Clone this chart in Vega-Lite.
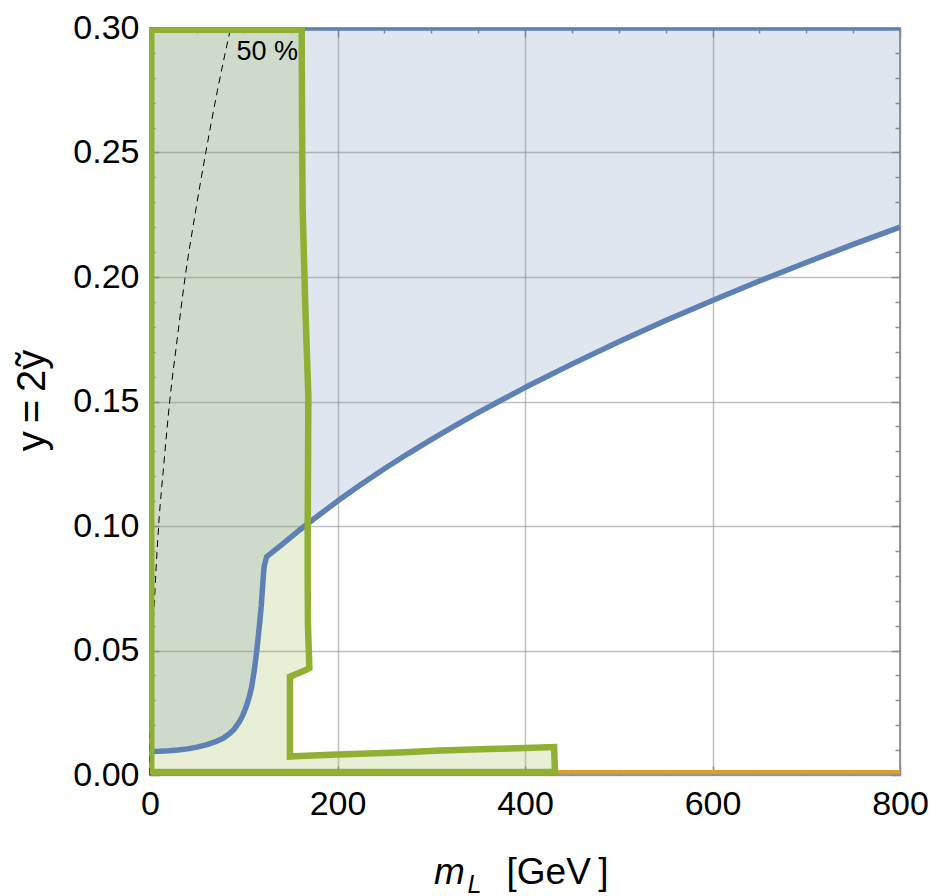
{
  "$schema": "https://vega.github.io/schema/vega-lite/v6.json",
  "width": 750,
  "height": 747,
  "autosize": {"type": "none"},
  "padding": {"left": 150, "top": 28, "right": 38, "bottom": 121},
  "background": "white",
  "config": {
    "view": {"stroke": "#9a9a9a", "strokeWidth": 2},
    "font": "Liberation Sans",
    "axis": {"domain": false, "labelFlush": false, "labelOverlap": false, "labelFont": "Liberation Sans", "titleFont": "Liberation Sans", "labelColor": "#000000", "titleColor": "#000000"}
  },
  "datasets": {
    "blue": [
      {"m": 0, "y": 0.0094}, {"m": 10, "y": 0.0095}, {"m": 20, "y": 0.0097}, {"m": 30, "y": 0.01},
      {"m": 40, "y": 0.0105}, {"m": 50, "y": 0.0112}, {"m": 60, "y": 0.0121}, {"m": 70, "y": 0.0134},
      {"m": 78, "y": 0.0148}, {"m": 85, "y": 0.0167}, {"m": 90, "y": 0.0185}, {"m": 95, "y": 0.0212},
      {"m": 99, "y": 0.024}, {"m": 103, "y": 0.0278}, {"m": 106, "y": 0.0315}, {"m": 108.5, "y": 0.0355},
      {"m": 111, "y": 0.0415}, {"m": 113, "y": 0.047}, {"m": 115, "y": 0.0538}, {"m": 117, "y": 0.0612},
      {"m": 118.7, "y": 0.068}, {"m": 120, "y": 0.075}, {"m": 121.2, "y": 0.0815}, {"m": 122, "y": 0.0842},
      {"m": 124.5, "y": 0.0877}, {"m": 140, "y": 0.0923}, {"m": 160, "y": 0.0985}, {"m": 175, "y": 0.1029},
      {"m": 200, "y": 0.11}, {"m": 225, "y": 0.1167}, {"m": 250, "y": 0.123}, {"m": 275, "y": 0.129},
      {"m": 300, "y": 0.1347}, {"m": 325, "y": 0.1402}, {"m": 350, "y": 0.1455}, {"m": 375, "y": 0.1506},
      {"m": 400, "y": 0.1556}, {"m": 450, "y": 0.165}, {"m": 500, "y": 0.174}, {"m": 550, "y": 0.1825},
      {"m": 600, "y": 0.1906}, {"m": 650, "y": 0.1984}, {"m": 700, "y": 0.2058}, {"m": 750, "y": 0.2131},
      {"m": 800, "y": 0.22}
    ],
    "greenA": [
      {"y": 0, "m": 149.3}, {"y": 0.0395, "m": 149.3}, {"y": 0.043, "m": 170}, {"y": 0.06, "m": 168.5},
      {"y": 0.078, "m": 168.2}, {"y": 0.101, "m": 168.2}, {"y": 0.12, "m": 168.5}, {"y": 0.152, "m": 168.9},
      {"y": 0.19, "m": 165.5}, {"y": 0.228, "m": 162.8}, {"y": 0.26, "m": 162.2}, {"y": 0.3, "m": 161.8}
    ],
    "greenB": [
      {"m": 149.3, "y": 0.0074}, {"m": 160, "y": 0.0076}, {"m": 200, "y": 0.0082}, {"m": 265, "y": 0.009},
      {"m": 310, "y": 0.0098}, {"m": 360, "y": 0.0104}, {"m": 400, "y": 0.0108}, {"m": 431, "y": 0.0112}
    ],
    "greenEdge": [
      {"i": 0, "m": 1.3, "y": 0.0012}, {"i": 1, "m": 1.3, "y": 0.2993}, {"i": 2, "m": 161.8, "y": 0.2993},
      {"i": 3, "m": 162.2, "y": 0.26}, {"i": 4, "m": 162.8, "y": 0.228}, {"i": 5, "m": 165.5, "y": 0.19},
      {"i": 6, "m": 168.9, "y": 0.152}, {"i": 7, "m": 168.5, "y": 0.12}, {"i": 8, "m": 168.2, "y": 0.101},
      {"i": 9, "m": 168.2, "y": 0.078}, {"i": 10, "m": 168.5, "y": 0.06}, {"i": 11, "m": 170, "y": 0.043},
      {"i": 12, "m": 167, "y": 0.0423}, {"i": 13, "m": 149.3, "y": 0.0395}, {"i": 14, "m": 149.3, "y": 0.0074},
      {"i": 15, "m": 160, "y": 0.0076}, {"i": 16, "m": 200, "y": 0.0082}, {"i": 17, "m": 265, "y": 0.009},
      {"i": 18, "m": 310, "y": 0.0098}, {"i": 19, "m": 360, "y": 0.0104}, {"i": 20, "m": 400, "y": 0.0108},
      {"i": 21, "m": 431, "y": 0.0112}, {"i": 22, "m": 432, "y": 0.0012}, {"i": 23, "m": 1.3, "y": 0.0012}
    ],
    "dashed": [
      {"m": 0, "y": 0}, {"m": 0.6, "y": 0.025}, {"m": 2.4, "y": 0.05}, {"m": 5.4, "y": 0.075},
      {"m": 9.2, "y": 0.1}, {"m": 14.8, "y": 0.125}, {"m": 21, "y": 0.15}, {"m": 29, "y": 0.175},
      {"m": 37.5, "y": 0.2}, {"m": 48, "y": 0.225}, {"m": 59.5, "y": 0.25}, {"m": 72, "y": 0.275},
      {"m": 86, "y": 0.3}
    ],
    "blueTop": [{"m": 162, "y": 0.2995}, {"m": 800, "y": 0.2995}],
    "orange": [{"m": 0, "y": 0.0012}, {"m": 800, "y": 0.0012}],
    "label": [{"m": 125, "y": 0.2905, "text": "50 %"}]
  },
  "resolve": {"axis": {"x": "independent", "y": "independent"}},
  "layer": [
    {
      "data": {"name": "blue"},
      "mark": {"type": "area", "color": "#5e81b5", "fillOpacity": 0.2},
      "encoding": {
        "x": {"field": "m", "type": "quantitative", "scale": {"domain": [0, 800], "nice": false, "zero": false},
          "axis": {"orient": "bottom", "values": [0, 200, 400, 600, 800], "format": "d", "ticks": false, "tickSize": 0, "labelFontSize": 34, "labelPadding": 12,
            "grid": true, "gridColor": "#8c8c8c", "gridOpacity": 0.55, "gridWidth": 1.5,
            "title": "[GeV\u2009]", "titleFontSize": 37, "titleFontWeight": "normal", "titleX": 407, "titleY": 108, "titleBaseline": "alphabetic", "titleAlign": "center"}},
        "y": {"field": "y", "type": "quantitative", "scale": {"domain": [0, 0.3], "nice": false, "zero": false},
          "axis": {"orient": "left", "values": [0, 0.05, 0.1, 0.15, 0.2, 0.25, 0.3], "format": ".2f", "ticks": false, "tickSize": 0, "labelFontSize": 34, "labelPadding": 11,
            "grid": true, "gridColor": "#8c8c8c", "gridOpacity": 0.55, "gridWidth": 1.5, "title": null}},
        "y2": {"datum": 0.3}
      }
    },
    {
      "data": {"name": "greenA"},
      "mark": {"type": "area", "orient": "horizontal", "color": "#8fb032", "fillOpacity": 0.2},
      "encoding": {
        "y": {"field": "y", "type": "quantitative", "scale": {"domain": [0, 0.3], "nice": false, "zero": false},
          "axis": {"orient": "left", "values": [0, 0.05, 0.1, 0.15, 0.2, 0.25, 0.3], "labels": false, "grid": false, "tickSize": -9, "tickColor": "#8c8c8c", "tickWidth": 1.5,
            "title": "y\u2009=\u20092\u1ef9", "titleFontSize": 40, "titleFontWeight": "normal", "titleAngle": -90, "titleX": -118, "titleY": 372, "titleAlign": "center", "titleBaseline": "middle"}},
        "x": {"field": "m", "type": "quantitative", "scale": {"domain": [0, 800], "nice": false, "zero": false},
          "axis": {"orient": "bottom", "values": [0, 200, 400, 600, 800], "labels": false, "grid": false, "tickSize": -9, "tickColor": "#8c8c8c", "tickWidth": 1.5,
            "title": "m", "titleFontSize": 37, "titleFontStyle": "italic", "titleFontWeight": "normal", "titleX": 299, "titleY": 108, "titleBaseline": "alphabetic", "titleAlign": "center"}},
        "x2": {"datum": 0}
      }
    },
    {
      "data": {"name": "greenB"},
      "mark": {"type": "area", "color": "#8fb032", "fillOpacity": 0.2},
      "encoding": {
        "x": {"field": "m", "type": "quantitative", "scale": {"domain": [0, 800], "nice": false, "zero": false},
          "axis": {"orient": "bottom", "values": [50, 100, 150, 250, 300, 350, 450, 500, 550, 650, 700, 750], "labels": false, "grid": false, "tickSize": -5, "tickColor": "#8c8c8c", "tickWidth": 1.5,
            "title": "L", "titleFontSize": 25, "titleFontStyle": "italic", "titleFontWeight": "normal", "titleX": 324, "titleY": 117, "titleBaseline": "alphabetic", "titleAlign": "center"}},
        "y": {"field": "y", "type": "quantitative", "scale": {"domain": [0, 0.3], "nice": false, "zero": false},
          "axis": {"orient": "left", "values": [0.01, 0.02, 0.03, 0.04, 0.06, 0.07, 0.08, 0.09, 0.11, 0.12, 0.13, 0.14, 0.16, 0.17, 0.18, 0.19, 0.21, 0.22, 0.23, 0.24, 0.26, 0.27, 0.28, 0.29],
            "labels": false, "grid": false, "tickSize": -5, "tickColor": "#8c8c8c", "tickWidth": 1.5, "title": null}},
        "y2": {"datum": 0}
      }
    },
    {
      "data": {"name": "dashed"},
      "mark": {"type": "line", "color": "#000000", "strokeWidth": 1, "strokeDash": [7, 5], "interpolate": "monotone"},
      "encoding": {
        "x": {"field": "m", "type": "quantitative", "scale": {"domain": [0, 800], "nice": false, "zero": false},
          "axis": {"orient": "top", "values": [0, 200, 400, 600, 800], "labels": false, "grid": false, "tickSize": -9, "tickColor": "#8c8c8c", "tickWidth": 1.5, "title": null}},
        "y": {"field": "y", "type": "quantitative", "scale": {"domain": [0, 0.3], "nice": false, "zero": false},
          "axis": {"orient": "right", "values": [0, 0.05, 0.1, 0.15, 0.2, 0.25, 0.3], "labels": false, "grid": false, "tickSize": -9, "tickColor": "#8c8c8c", "tickWidth": 1.5, "title": null}}
      }
    },
    {
      "data": {"name": "blue"},
      "mark": {"type": "line", "color": "#5e81b5", "strokeWidth": 5.5, "strokeJoin": "round"},
      "encoding": {
        "x": {"field": "m", "type": "quantitative", "scale": {"domain": [0, 800], "nice": false, "zero": false},
          "axis": {"orient": "top", "values": [50, 100, 150, 250, 300, 350, 450, 500, 550, 650, 700, 750], "labels": false, "grid": false, "tickSize": -5, "tickColor": "#8c8c8c", "tickWidth": 1.5, "title": null}},
        "y": {"field": "y", "type": "quantitative", "scale": {"domain": [0, 0.3], "nice": false, "zero": false},
          "axis": {"orient": "right", "values": [0.01, 0.02, 0.03, 0.04, 0.06, 0.07, 0.08, 0.09, 0.11, 0.12, 0.13, 0.14, 0.16, 0.17, 0.18, 0.19, 0.21, 0.22, 0.23, 0.24, 0.26, 0.27, 0.28, 0.29],
            "labels": false, "grid": false, "tickSize": -5, "tickColor": "#8c8c8c", "tickWidth": 1.5, "title": null}}
      }
    },
    {
      "data": {"name": "blueTop"},
      "mark": {"type": "line", "color": "#5e81b5", "strokeWidth": 3},
      "encoding": {
        "x": {"field": "m", "type": "quantitative", "scale": {"domain": [0, 800], "nice": false, "zero": false}, "axis": null},
        "y": {"field": "y", "type": "quantitative", "scale": {"domain": [0, 0.3], "nice": false, "zero": false}, "axis": null}
      }
    },
    {
      "data": {"name": "orange"},
      "mark": {"type": "line", "color": "#e19c24", "strokeWidth": 4},
      "encoding": {
        "x": {"field": "m", "type": "quantitative", "scale": {"domain": [0, 800], "nice": false, "zero": false}, "axis": null},
        "y": {"field": "y", "type": "quantitative", "scale": {"domain": [0, 0.3], "nice": false, "zero": false}, "axis": null}
      }
    },
    {
      "data": {"name": "greenEdge"},
      "mark": {"type": "line", "color": "#8fb032", "strokeWidth": 6.5, "strokeJoin": "miter", "clip": true},
      "encoding": {
        "x": {"field": "m", "type": "quantitative", "scale": {"domain": [0, 800], "nice": false, "zero": false}, "axis": null},
        "y": {"field": "y", "type": "quantitative", "scale": {"domain": [0, 0.3], "nice": false, "zero": false}, "axis": null},
        "order": {"field": "i", "type": "quantitative"}
      }
    },
    {
      "data": {"name": "label"},
      "mark": {"type": "text", "fontSize": 27, "font": "Liberation Sans", "color": "#000000", "align": "center", "baseline": "middle"},
      "encoding": {
        "x": {"field": "m", "type": "quantitative", "scale": {"domain": [0, 800], "nice": false, "zero": false}, "axis": null},
        "y": {"field": "y", "type": "quantitative", "scale": {"domain": [0, 0.3], "nice": false, "zero": false}, "axis": null},
        "text": {"field": "text"}
      }
    }
  ]
}
